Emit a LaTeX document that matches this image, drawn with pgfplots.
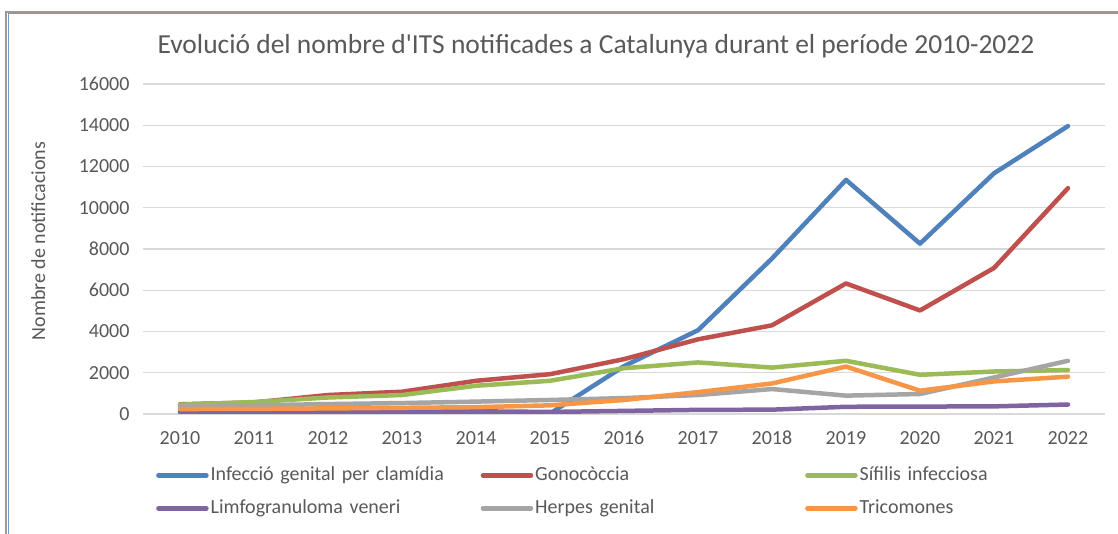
\documentclass[border=0pt]{standalone}
\usepackage{pgfplots}
\pgfplotsset{compat=1.18}
\usepackage{fontspec}
\setmainfont{Carlito}
\definecolor{cblue}{HTML}{4F81BD}
\definecolor{cred}{HTML}{C0504D}
\definecolor{cgreen}{HTML}{9BBB59}
\definecolor{cpurple}{HTML}{8064A2}
\definecolor{cgray}{HTML}{A5A5A5}
\definecolor{corange}{HTML}{F79646}
\definecolor{txt}{HTML}{595959}
\definecolor{grid}{HTML}{D9D9D9}
\begin{document}
\begin{tikzpicture}
\path[use as bounding box] (0,0) rectangle (1118bp,534bp);
\fill[white] (0,0) rectangle (1118bp,534bp);
\draw[color=gray!80, line width=1.2bp] (6bp,0) -- (6bp,522bp) -- (1118bp,522bp);
\draw[color=cblue!80, line width=1.5bp] (8.5bp,0) -- (8.5bp,520.5bp) -- (1118bp,520.5bp);
\node[text=txt, font=\fontsize{27.5bp}{32bp}\selectfont] at (596bp,488bp) {Evolució del nombre d\textquotesingle ITS notificades a Catalunya durant el període 2010-2022};
\begin{axis}[
  at={(143bp,120bp)}, anchor=south west,
  scale only axis, width=962bp, height=330bp,
  xmin=2009.5, xmax=2022.5, ymin=0, ymax=16000,
  xtick={2010,...,2022}, ytick={0,2000,...,16000},
  scaled ticks=false,
  axis line style={draw=none},
  major tick length=0pt,
  ymajorgrids, grid style={color=grid, line width=1.3bp},
  /pgf/number format/1000 sep={},
  /pgf/number format/assume math mode=true,
  tick label style={text=txt, font=\fontsize{20bp}{24bp}\selectfont},
  yticklabel style={xshift=-10bp},
  xticklabel style={yshift=-13bp, text height=14bp, text depth=0bp},
  ylabel={Nombre de notificacions},
  ylabel style={at={(axis description cs:-0.109,0.524)}, anchor=center, text=txt, font=\fontsize{20bp}{24bp}\selectfont},
  every axis plot/.append style={line width=4.5bp, line cap=round, line join=round, mark=none},
  legend columns=3,
  legend image code/.code={\draw[#1, line cap=round] (0bp,0bp) -- (48bp,0bp);},
  legend style={at={(rel axis cs:0.0135,-0.158)}, anchor=north west, draw=none, fill=none, inner sep=0pt,
    row sep=15bp, column sep=0pt,
    nodes={text=txt, font=\fontsize{20bp}{23bp}\selectfont, text width=268bp, align=left, execute at begin node={\raggedright}, inner xsep=2bp, inner ysep=0pt, text height=14bp, text depth=4bp}},
]
\addplot[cblue] coordinates {(2010,100)(2011,100)(2012,100)(2013,100)(2014,100)(2015,20)(2016,2320)(2017,4060)(2018,7540)(2019,11350)(2020,8260)(2021,11670)(2022,13960)};
\addlegendentry{Infecció genital per clamídia}
\addplot[cred] coordinates {(2010,470)(2011,560)(2012,920)(2013,1080)(2014,1610)(2015,1930)(2016,2660)(2017,3620)(2018,4300)(2019,6330)(2020,5020)(2021,7080)(2022,10950)};
\addlegendentry{Gonocòccia}
\addplot[cgreen] coordinates {(2010,450)(2011,580)(2012,800)(2013,920)(2014,1370)(2015,1610)(2016,2220)(2017,2500)(2018,2250)(2019,2580)(2020,1900)(2021,2060)(2022,2130)};
\addlegendentry{Sífilis infecciosa}
\addplot[cpurple] coordinates {(2010,100)(2011,100)(2012,110)(2013,110)(2014,130)(2015,100)(2016,150)(2017,200)(2018,210)(2019,350)(2020,360)(2021,370)(2022,460)};
\addlegendentry{Limfogranuloma veneri}
\addplot[cgray] coordinates {(2010,380)(2011,420)(2012,480)(2013,530)(2014,600)(2015,680)(2016,770)(2017,920)(2018,1210)(2019,890)(2020,970)(2021,1770)(2022,2580)};
\addlegendentry{Herpes genital}
\addplot[corange] coordinates {(2010,240)(2011,250)(2012,270)(2013,300)(2014,330)(2015,420)(2016,680)(2017,1060)(2018,1480)(2019,2300)(2020,1130)(2021,1580)(2022,1810)};
\addlegendentry{Tricomones}
\end{axis}
\end{tikzpicture}
\end{document}
